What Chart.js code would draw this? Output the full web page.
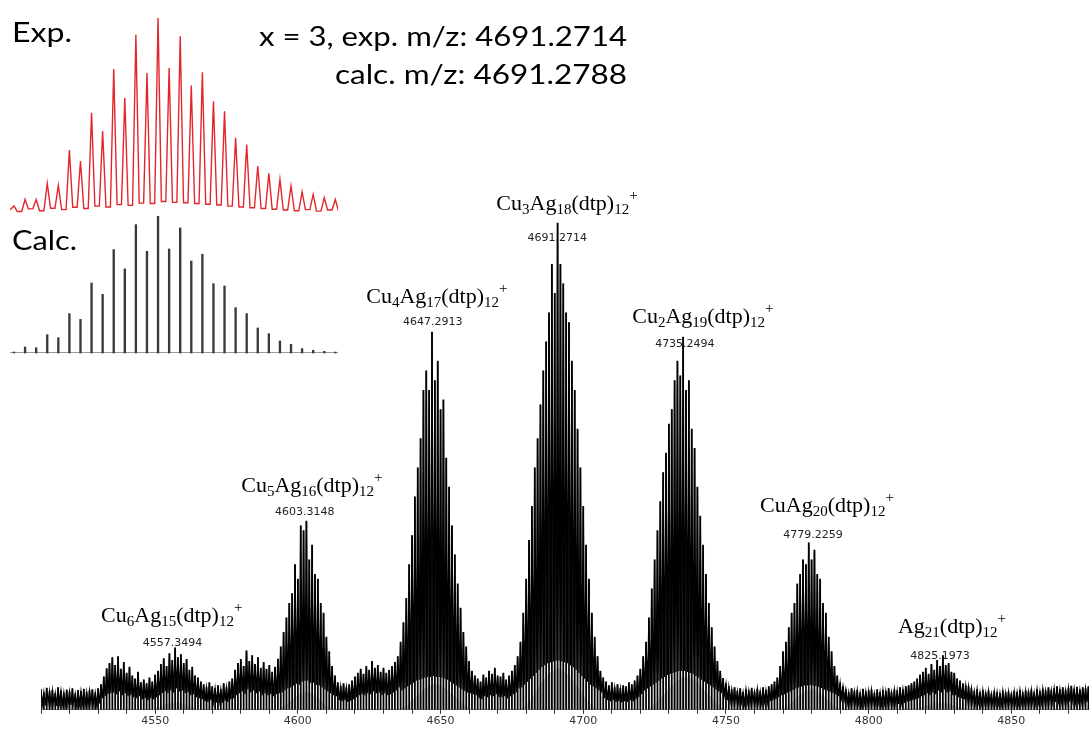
<!DOCTYPE html>
<html><head><meta charset="utf-8">
<script src="https://cdn.jsdelivr.net/npm/chart.js@4.4.1/dist/chart.umd.min.js"></script>
<style>
html,body{margin:0;padding:0;background:#fff;overflow:hidden}
#wrap{position:relative;width:1089px;height:729px}
canvas{position:absolute;display:block}
#main{left:0;top:0;width:1089px;height:729px}
#exp{left:10px;top:15px;width:328px;height:200px}
#calc{left:10px;top:210px;width:328px;height:146px}
</style></head><body>
<div id="wrap">
<canvas id="main" width="1089" height="729"></canvas>
<canvas id="exp" width="328" height="200"></canvas>
<canvas id="calc" width="328" height="146"></canvas>
</div>
<script>
// ---------- DATA ----------
// main spectrum, one sample per m/z unit starting at mzStart (relative intensity, %)
const mzStart = 4510;
const peakInt = [
 4.2,3.6,4.5,3.8,4.0,3.4,4.6,3.9,3.5,4.1, 3.7,4.4,3.3,4.0,3.8,4.3,3.6,3.9,4.2,3.5, 4.4,
 5.2,6.8,8.5,9.6,10.8,9.2,11.0,8.4,9.8,7.6, 8.8,7.0,6.4,7.8,5.6,6.2,
 5.4,6.6,5.8,7.2,
 8.0,9.4,10.6,9.0,11.6,10.2,12.8,10.8,11.4,9.6, 10.4,8.2,8.8,7.0,6.6,5.8,
 5.2,4.6,5.6,4.8,4.4,5.0,4.2,5.4,4.6,5.8,6.4,
 8.2,9.6,10.4,9.0,12.2,10.0,11.2,9.4,10.8,8.6, 9.8,8.4,9.2,7.8,8.8,
 10.5,13,16,19,22,24,30,27,38,37, 39,31,34,28,27,22,20,15,12,9, 7,
 5.6,4.8,5.4,4.6,5.2,6.0,
 6.8,7.6,8.4,7.4,9.0,8.2,10.0,8.6,9.2,7.8, 8.6,7.6,8.2,9.0,9.8,11.0,
 14,18,23,30,36,44,50,56,66,70, 66,78,68,72,62,64,52,46,38,32, 26,21,16,13,10,8,7,
 6.4,5.8,7.2,6.6,8.0,7.4,8.6,7.0,6.8,7.6, 6.2,7.0,8.0,9.2,11.0,
 14,20,27,35,42,50,56,63,70,76, 82,92,86,100.5,92,88,82,80,72,66, 58,50,42,34,27,20,15,11,8,
 6.6,5.8,5.0,5.6,4.6,5.2,4.4,5.0,4.8,5.6, 5.2,6.0,7.0,8.4,
 11,14,19,25,31,37,43,49,53,59, 62,68,72,69,77,66,68,58,54,46, 40,34,28,22,17,13,10,8,6.5,
 5.4,4.8,4.2,4.6,3.8,4.4,3.6,4.2,3.9,4.5, 3.7,4.3,3.8,4.6,4.0,4.8,5.2,5.8,6.6,
 9,12,14,17,20,22,26,28,31,30, 34.5,31,33,28,27,22,20,15,12,9, 7,5.5,4.8,
 4.2,3.6,4.4,3.8,4.0,3.5,4.3,3.7,3.9,4.1, 3.4,4.2,3.6,4.0,3.8,4.4,3.6,4.1,3.9,4.6, 4.2,4.8,5.0,5.4,
 5.8,6.4,7.2,7.8,8.6,7.4,9.4,8.2,10.2,9.0, 11.2,9.2,9.6,7.8,7.6,6.4,6.0,5.4,5.0,4.8,
 4.4,3.8,4.2,3.6,4.0,3.5,3.9,3.3,3.8,3.6, 3.4,3.9,3.5,3.7,3.3,3.8,3.6,4.0,3.5,3.9,
 3.7,4.1,3.6,4.2,3.8,4.3,3.9,4.6,4.0,4.4, 4.8,4.2,4.6,4.0,4.5,4.9,4.3,4.7,4.1,4.6, 4.4,4.8
];
// minimum of the profile between m/z and m/z + 1
const valleyInt = [
 1.2,0.9,1.5,1.0,1.3,0.8,1.4,1.1,0.9,1.2, 1.0,1.3,0.8,1.1,1.2,1.0,0.9,1.4,1.1,1.0, 1.3,
 2.4,2.8,3.2,3.4,3.6,3.2,3.8,3.0,3.4,2.8, 3.0,2.6,2.4,2.8,2.2,2.4,
 2.0,2.4,2.2,2.6,
 3.0,3.4,3.8,3.4,4.0,3.6,4.4,3.8,4.0,3.4, 3.6,3.0,3.2,2.6,2.4,2.2,
 1.8,1.6,2.0,1.7,1.5,1.8,1.4,1.9,1.6,2.2,2.4,
 3.0,3.4,3.8,3.2,4.2,3.6,4.0,3.4,3.8,3.0, 3.4,3.0,3.2,2.8,3.2,
 3.4,3.6,4,4.4,4.6,5,5.4,5.2,5.8,6, 6,5.6,5.6,5.2,5,4.6,4.2,3.8,3.4,3, 2.8,
 2.0,1.8,2.0,1.6,1.9,2.2,
 2.6,3.0,3.2,3.0,3.4,3.2,3.8,3.4,3.6,3.0, 3.4,3.0,3.2,3.6,4.0,4.6,
 4,4.4,4.8,5.2,5.6,6,6.2,6.4,6.6,6.8, 6.8,7,6.8,6.8,6.6,6.4,6.2,5.8,5.4,5, 4.6,4.2,3.9,3.6,3.4,3.2,3,
 2.4,2.2,2.8,2.6,3.0,2.8,3.2,2.6,2.6,2.8, 2.4,2.8,3.2,3.6,4.4,
 4.6,5.2,5.8,6.4,7,7.6,8.2,8.8,9.2,9.6, 9.8,10,10.2,10.2,10,9.8,9.6,9.2,8.8,8.2, 7.6,7,6.4,5.8,5.2,4.8,4.4,4,3.6,
 2.4,2.0,1.8,2.0,1.6,1.8,1.5,1.8,1.6,2.0, 1.8,2.2,2.6,3.2,
 4,4.4,4.8,5.2,5.6,6,6.4,6.8,7.2,7.4, 7.6,7.8,8,8,8,7.8,7.6,7.4,7,6.6, 6.2,5.8,5.4,5,4.6,4.2,3.8,3.5,3.2,
 2.0,1.8,1.6,1.7,1.3,1.6,1.2,1.5,1.4,1.6, 1.3,1.5,1.4,1.7,1.5,1.8,2.0,2.2,2.6,
 3,3.2,3.5,3.8,4.1,4.4,4.6,4.8,5,5, 5.1,5,4.9,4.7,4.5,4.2,4,3.7,3.4,3.1, 2.8,2.5,2.2,
 1.4,1.1,1.5,1.2,1.3,1.0,1.4,1.2,1.3,1.4, 1.0,1.4,1.1,1.3,1.2,1.5,1.1,1.3,1.2,1.6, 1.4,1.7,1.8,2.0,
 2.2,2.4,2.8,3.0,3.4,3.0,3.6,3.2,4.0,3.6, 4.2,3.6,3.8,3.0,3.0,2.6,2.4,2.2,2.0,1.8,
 1.6,1.3,1.5,1.2,1.4,1.2,1.3,1.1,1.3,1.2, 1.1,1.3,1.2,1.3,1.1,1.3,1.2,1.4,1.2,1.3,
 1.3,1.5,1.3,1.5,1.4,1.6,1.4,1.7,1.5,1.6, 1.8,1.6,1.7,1.5,1.7,1.9,1.6,1.8,1.6,1.7, 1.6,1.8
];
// light grey simulated envelope under the clusters
const grayMz  = [4510,4548,4557,4566,4592,4603,4613,4635,4648,4662,4677,4691,4706,4721,4736,4751,4768,4780,4791,4815,4825,4836,4877];
const grayVal = [0,0,1.5,0,0,3.6,0,0,5.2,0,0,8.4,0,0,6.6,0,0,4.0,0,0,1.4,0,0];
// x-axis
const xMin = 4510, xMax = 4877.2, xStep = 10, xLabelEvery = 50;
// peak annotations
const peakFormulas = ['Cu_6Ag_15(dtp)_12^+','Cu_5Ag_16(dtp)_12^+','Cu_4Ag_17(dtp)_12^+','Cu_3Ag_18(dtp)_12^+','Cu_2Ag_19(dtp)_12^+','CuAg_20(dtp)_12^+','Ag_21(dtp)_12^+'];
const peakMasses   = ['4557.3494','4603.3148','4647.2913','4691.2714','4735.2494','4779.2259','4825.1973'];
// inset: isotope pattern of Cu3Ag18(dtp)12+
const expPeaks  = [2.1,5.5,5.5,13.9,12.8,31.2,25.5,50.6,41.1,73.5,58.4,91.3,71.4,100,74,90.5,64.8,71.8,56.7,51.5,37.6,34.1,22.9,19.1,15.9,12.5,9.4,8.1,6.4,5.5];
const expValleys = [0.4,-0.8,0.6,-0.4,0.9,0.2,1.4,0.8,2.0,1.6,2.8,2.4,3.6,3.4,4.4,4.0,3.8,3.4,3.0,2.6,2.0,1.6,1.2,0.8,0.4,0.0,-0.4,0.2,-0.6,0.0,-0.8];
const calcPeaks = [0.7,4.4,3.9,13.4,11.2,28.8,24.6,51.2,42.9,75.6,61.5,93.9,74.4,100,76.1,91.5,67.3,72.2,50.7,49,33.2,28.8,18.3,14.1,8.8,6.3,3.2,2,1.2,0.7];

// ---------- LAYOUT / STYLE ----------
const annot = [ // formula centre / baseline and mass-label centre / baseline, in data units
 {fx:4555.8, fy:18.1, nx:4556.1, ny:13.2},
 {fx:4604.9, fy:45.0, nx:4602.4, ny:40.2},
 {fx:4648.7, fy:84.1, nx:4647.3, ny:79.4},
 {fx:4694.3, fy:103.3, nx:4690.9, ny:96.8},
 {fx:4741.9, fy:79.8, nx:4735.6, ny:75.0},
 {fx:4785.4, fy:40.8, nx:4780.5, ny:35.5},
 {fx:4829.2, fy:15.9, nx:4825.0, ny:10.5}
];
const titleTexts = [
 {t:'Exp.', x:12, y:42, w:60, align:'left'},
 {t:'Calc.', x:12, y:250, w:65, align:'left'},
 {t:'x = 3, exp. m/z: 4691.2714', x:259, y:46, w:368, align:'left'},
 {t:'calc. m/z: 4691.2788', x:627, y:84, w:292, align:'right'}
];
const expHalfWidth = 0.3;
const GRAY_INDEX = 2;

function parseFormula(s){
  const out=[]; const re=/_(\d+)|\^(\+)|([^_^]+)/g; let m;
  while((m=re.exec(s))){ if(m[1]) out.push([m[1],'sub']); else if(m[2]) out.push([m[2],'sup']); else out.push([m[3],'n']); }
  return out;
}

// fills the area under the grey envelope dataset (uses the line element built by Chart.js)
const grayFillPlugin = {
  id:'grayFill',
  beforeDatasetsDraw(chart){
    const meta=chart.getDatasetMeta(GRAY_INDEX);
    const line=meta.dataset, pts=meta.data;
    if(!line || !pts.length) return;
    const ctx=chart.ctx, base=chart.scales.y.getPixelForValue(0), a=chart.chartArea;
    ctx.save();
    ctx.beginPath(); ctx.rect(a.left,a.top,a.right-a.left,a.bottom-a.top); ctx.clip();
    ctx.beginPath();
    line.path(ctx);
    ctx.lineTo(pts[pts.length-1].x, base);
    ctx.lineTo(pts[0].x, base);
    ctx.closePath();
    ctx.fillStyle='#d6d6d6';
    ctx.fill();
    ctx.restore();
  }
};

const textPlugin = {
  id:'texts',
  beforeDatasetsDraw(chart){
    const ctx=chart.ctx, xs=chart.scales.x, ys=chart.scales.y;
    ctx.save();
    ctx.fillStyle='#000';
    ctx.textBaseline='alphabetic';
    peakFormulas.forEach((f,i)=>{
      const a=annot[i];
      const parts=parseFormula(f);
      const big='22px "Liberation Serif"', small='15px "Liberation Serif"';
      let w=0; parts.forEach(p=>{ctx.font=p[1]==='n'?big:small; w+=ctx.measureText(p[0]).width;});
      let x=xs.getPixelForValue(a.fx)-w/2; const y=ys.getPixelForValue(a.fy);
      parts.forEach(p=>{
        ctx.font=p[1]==='n'?big:small;
        const dy=p[1]==='sub'?4:(p[1]==='sup'?-10:0);
        ctx.textAlign='left'; ctx.fillText(p[0],x,y+dy);
        x+=ctx.measureText(p[0]).width;
      });
      ctx.font='11px "DejaVu Sans"'; ctx.fillStyle='#222'; ctx.textAlign='center';
      ctx.fillText(peakMasses[i], xs.getPixelForValue(a.nx), ys.getPixelForValue(a.ny));
      ctx.fillStyle='#000';
    });
    ctx.restore();
  },
  afterDraw(chart){
    const ctx=chart.ctx;
    ctx.save(); ctx.fillStyle='#000'; ctx.textBaseline='alphabetic'; ctx.font='27px Lato';
    titleTexts.forEach(o=>{
      const mw=ctx.measureText(o.t).width, k=o.w/mw;
      ctx.save();
      ctx.translate(o.align==='right'?o.x-o.w:o.x, o.y); ctx.scale(k,1);
      ctx.textAlign='left'; ctx.fillText(o.t,0,0); ctx.restore();
    });
    ctx.restore();
  }
};

// ---------- MAIN CHART ----------
const barData = peakInt.map((v,i)=>({x:mzStart+i, y:v}));
const zigData = [];
peakInt.forEach((v,i)=>{ zigData.push({x:mzStart+i, y:v}); zigData.push({x:mzStart+i+0.5, y:valleyInt[i]}); });
const grayData = grayMz.map((m,i)=>({x:m, y:grayVal[i]}));

new Chart(document.getElementById('main'), {
  type:'bar',
  data:{datasets:[
    {type:'line', data:zigData, borderColor:'#000', borderWidth:1.3, pointRadius:0, tension:0, fill:false},
    {type:'bar', data:barData, backgroundColor:'#000', barThickness:1.1, borderWidth:0},
    {type:'line', data:grayData, borderColor:'#d6d6d6', borderWidth:1, pointRadius:0, fill:false, cubicInterpolationMode:'monotone'}
  ]},
  options:{
    responsive:false, animation:false, devicePixelRatio:1,
    layout:{padding:{left:41,right:0,top:0,bottom:0}},
    plugins:{legend:{display:false}, tooltip:{enabled:false}},
    scales:{
      x:{type:'linear', min:xMin, max:xMax, offset:false,
         grid:{drawOnChartArea:false, drawTicks:true, tickLength:4, color:'#333', offset:false},
         border:{display:true, color:'#333', width:1},
         ticks:{stepSize:xStep, autoSkip:false, maxRotation:0, includeBounds:false, padding:1,
                color:'#333', font:{family:'"DejaVu Sans"', size:11},
                callback:v=> (v % xLabelEvery === 0 ? String(v) : '')}},
      y:{display:false, min:0, max:146.6}
    }
  },
  plugins:[grayFillPlugin, textPlugin]
});

// ---------- INSET: EXPERIMENTAL ----------
const expData=[];
expPeaks.forEach((v,i)=>{
  expData.push({x:i+0.5, y:expValleys[i]});
  expData.push({x:i+1-expHalfWidth, y:expValleys[i]});
  expData.push({x:i+1, y:v});
  expData.push({x:i+1+expHalfWidth, y:expValleys[i+1]});
});
expData.push({x:expPeaks.length+0.5, y:expValleys[expPeaks.length]});
new Chart(document.getElementById('exp'), {
  type:'line',
  data:{datasets:[{data:expData, borderColor:'#e3262b', borderWidth:1.4, pointRadius:0, tension:0, fill:false}]},
  options:{responsive:false, animation:false, devicePixelRatio:1,
    layout:{padding:0},
    plugins:{legend:{display:false}, tooltip:{enabled:false}},
    scales:{x:{type:'linear', display:false, min:0.64, max:30.24}, y:{display:false, min:-2.6, max:101.6}}}
});

// ---------- INSET: CALCULATED ----------
new Chart(document.getElementById('calc'), {
  type:'bar',
  data:{datasets:[{data:calcPeaks.map((v,i)=>({x:i+1, y:v})), backgroundColor:'#3a3a3a', barThickness:1.7, borderWidth:0}]},
  options:{responsive:false, animation:false, devicePixelRatio:1,
    layout:{padding:0},
    plugins:{legend:{display:false}, tooltip:{enabled:false}},
    scales:{
      x:{type:'linear', min:0.64, max:30.24, offset:false, position:{y:0},
         grid:{display:false, drawTicks:false, tickLength:0}, ticks:{display:false},
         border:{display:true, color:'#9a9a9a', width:1}},
      y:{display:false, min:-2.2, max:104.6}}}
});
</script>
</body></html>
